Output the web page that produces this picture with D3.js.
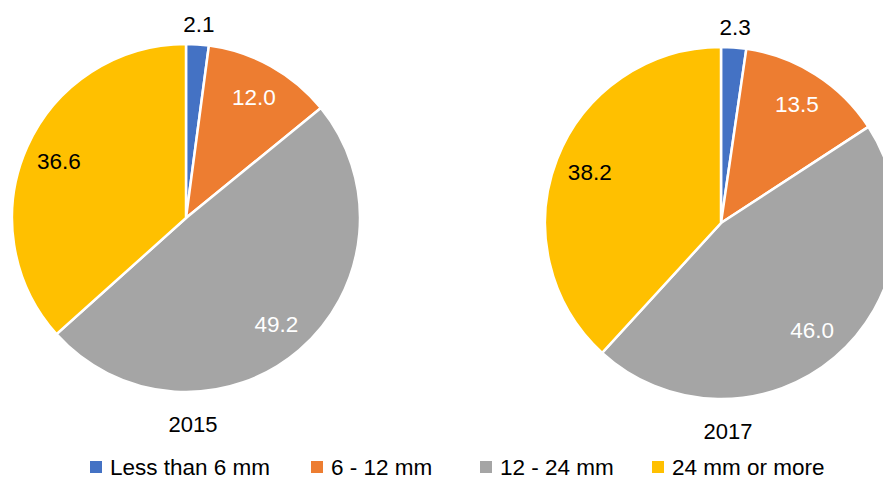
<!DOCTYPE html>
<html lang="en">
<head>
<meta charset="UTF-8">
<title>Hail size pies</title>
<script src="https://d3js.org/d3.v7.min.js"></script>
<style>
  body { margin: 0; background: #fff; }
  svg { display: block; font-family: "Liberation Sans", Arial, sans-serif; }
</style>
</head>
<body>
<script>
  // data
  const categories = ["Less than 6 mm", "6 - 12 mm", "12 - 24 mm", "24 mm or more"];
  const years = ["2015", "2017"];
  const values2015 = [2.1, 12.0, 49.2, 36.6];
  const values2017 = [2.3, 13.5, 46.0, 38.2];

  const colors = ["#4472C4", "#ED7D31", "#A5A5A5", "#FFC000"];
  const labelColors = ["#000", "#fff", "#fff", "#000"];

  const width = 883, height = 480;
  const svg = d3.select("body").append("svg")
      .attr("width", width).attr("height", height);

  const color = d3.scaleOrdinal().domain(categories).range(colors);
  const pie = d3.pie().sort(null).value(d => d.v);

  const pies = [
    {year: years[0], values: values2015, cx: 186, cy: 218, r: 174},
    {year: years[1], values: values2017, cx: 721, cy: 223, r: 176}
  ];

  pies.forEach(p => {
    const rows = categories.map((c, i) => ({c: c, v: p.values[i], i: i}));
    const arcs = pie(rows);
    const arc = d3.arc().innerRadius(0).outerRadius(p.r);
    const g = svg.append("g").attr("transform", `translate(${p.cx},${p.cy})`);

    g.selectAll("path")
      .data(arcs)
      .enter()
      .append("path")
      .attr("d", arc)
      .attr("fill", d => color(d.data.c))
      .attr("stroke", "#fff")
      .attr("stroke-width", 2.5);

    g.selectAll("text.lbl")
      .data(arcs)
      .enter()
      .append("text")
      .attr("class", "lbl")
      .attr("transform", d => {
        const a = (d.startAngle + d.endAngle) / 2;
        const k = d.data.i == 0 ? 1.12 : 0.8;
        return `translate(${Math.sin(a) * p.r * k},${-Math.cos(a) * p.r * k})`;
      })
      .attr("text-anchor", "middle")
      .attr("dy", "0.36em")
      .attr("font-size", 22.5)
      .attr("fill", d => labelColors[d.data.i])
      .text(d => d.data.v.toFixed(1));

    g.append("text")
      .attr("x", 7)
      .attr("y", p.r + 32)
      .attr("dy", "0.36em")
      .attr("text-anchor", "middle")
      .attr("font-size", 22)
      .attr("fill", "#000")
      .text(p.year);
  });

  // legend
  const legendX = [90, 311, 480, 652];
  const legend = svg.append("g").attr("transform", "translate(0,467)");
  const items = legend.selectAll("g")
    .data(categories)
    .enter()
    .append("g")
    .attr("transform", (d, i) => `translate(${legendX[i]},0)`);
  items.append("rect")
    .attr("x", 0).attr("y", -6)
    .attr("width", 12).attr("height", 12)
    .attr("fill", d => color(d));
  items.append("text")
    .attr("x", 20)
    .attr("dy", "0.36em")
    .attr("font-size", 22.5)
    .attr("fill", "#000")
    .text(d => d);
</script>
</body>
</html>
